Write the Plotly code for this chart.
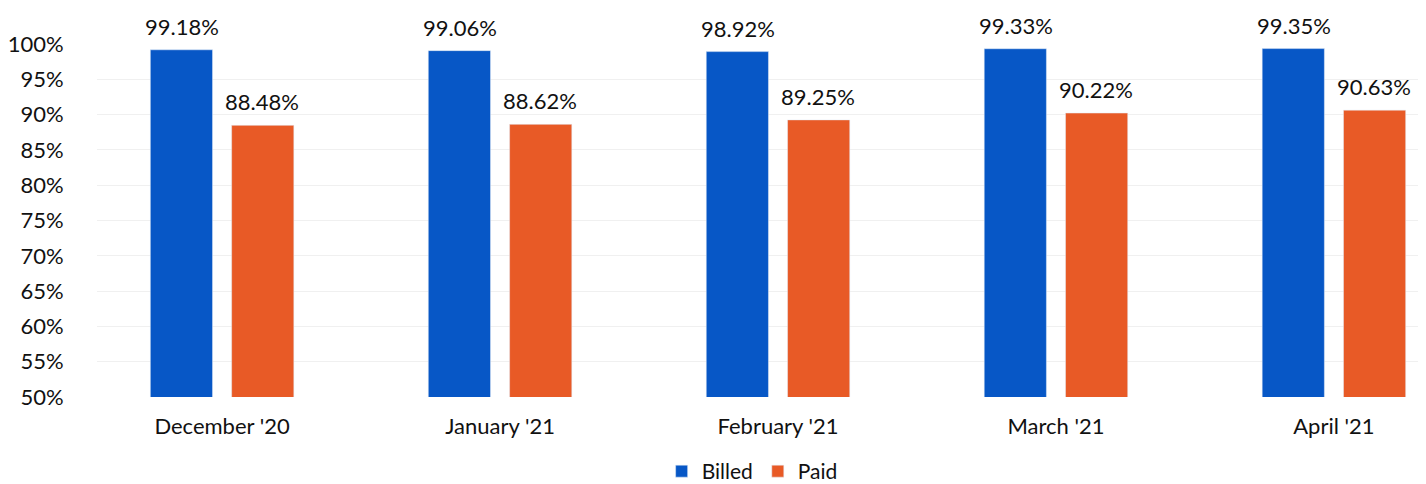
import plotly.graph_objects as go

months = ["December '20", "January '21", "February '21", "March '21", "April '21"]
billed = [99.18, 99.06, 98.92, 99.33, 99.35]
paid = [88.48, 88.62, 89.25, 90.22, 90.63]
y_ticks = [50, 55, 60, 65, 70, 75, 80, 85, 90, 95, 100]

font_family = "Lato, 'Open Sans', sans-serif"
text_color = "#111111"
FS = 22

fig = go.Figure()
fig.add_trace(go.Bar(name="Billed", x=months, y=billed, marker_color="#0757C6"))
fig.add_trace(go.Bar(name="Paid", x=months, y=paid, marker_color="#E85A26"))

# data labels above bars (offset to each bar's slot within the group)
for vals, xs in ((billed, -40), (paid, 40)):
    for m, v in zip(months, vals):
        fig.add_annotation(x=m, y=v, text=f"{v:.2f}%", showarrow=False,
                           xanchor="center", yanchor="bottom", xshift=xs, yshift=8,
                           font=dict(size=FS, color=text_color, family=font_family))

fig.update_layout(
    width=1426, height=484,
    margin=dict(l=87, r=0, t=36, b=95),
    paper_bgcolor="white", plot_bgcolor="white",
    barmode="group", bargap=0.415, bargroupgap=0.235,
    font=dict(family=font_family, size=FS, color=text_color),
    showlegend=True,
    legend=dict(orientation="h", x=0.49, xanchor="center", yref="container",
                y=0.0, yanchor="bottom",
                font=dict(size=21, color=text_color), itemwidth=30,
                traceorder="normal"),
)
fig.update_xaxes(
    type="category", range=[-0.45, 4.36],
    showgrid=False, showline=False, zeroline=False,
    tickfont=dict(size=FS, color=text_color),
    ticks="outside", ticklen=10, tickcolor="rgba(0,0,0,0)",
)
fig.update_yaxes(
    range=[50, 100], tickvals=y_ticks, ticktext=[f"{v}%" for v in y_ticks],
    showgrid=True, gridcolor="#f0f0f0", gridwidth=1,
    zeroline=False, showline=False,
    tickfont=dict(size=FS, color=text_color),
    ticks="outside", ticklen=28, tickcolor="rgba(0,0,0,0)",
)

fig.write_html("out.html")
